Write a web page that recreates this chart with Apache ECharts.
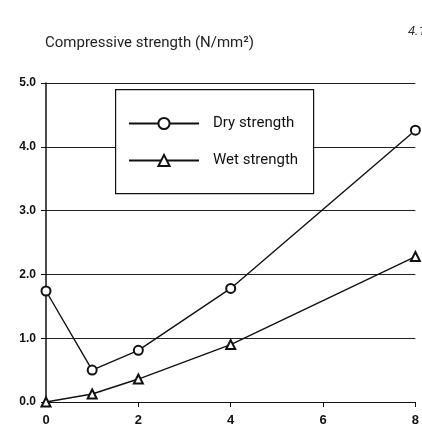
<!DOCTYPE html>
<html><head><meta charset="utf-8">
<script src="https://cdn.jsdelivr.net/npm/echarts@6/dist/echarts.min.js"></script>
<style>html,body{margin:0;padding:0;background:#fff}#c{width:422px;height:431px}</style>
</head><body><div id="c"></div>
<script>
const xValues = [0, 1, 2, 4, 8];
const dryStrength = [1.74, 0.50, 0.81, 1.78, 4.26];
const wetStrength = [0.0, 0.125, 0.36, 0.90, 2.28];
const seriesNames = ['Dry strength', 'Wet strength'];
const yTicks = [0, 1, 2, 3, 4, 5];
const xTicks = [0, 2, 4, 6, 8];

const chart = echarts.init(document.getElementById('c'));
const pair = (ys) => xValues.map((x, i) => [x, ys[i]]);
chart.setOption({
  animation: false,
  backgroundColor: '#fff',
  textStyle: { fontFamily: 'Roboto' },
  grid: { left: 46, right: 6, top: 83, bottom: 29 },
  title: [
    { text: 'Compressive strength (N/mm²)', left: 40, top: 31,
      textStyle: { fontFamily: 'Roboto', fontSize: 15, fontWeight: 'normal', color: '#222' } },
    { text: '4.1', left: 403, top: 20,
      textStyle: { fontFamily: 'Roboto', fontSize: 13, fontStyle: 'italic', fontWeight: 'normal', color: '#333' } }
  ],
  graphic: [{
    type: 'rect', z: 50, left: 115, top: 89,
    shape: { width: 198, height: 104 },
    style: { fill: '#fff', stroke: '#111', lineWidth: 1.2 }
  }],
  legend: {
    z: 60, orient: 'vertical', left: 128, top: 116,
    padding: 0, itemWidth: 70, itemHeight: 14, itemGap: 22,
    textStyle: { fontFamily: 'Roboto', fontSize: 15, color: '#111', padding: [0, 0, 0, 9] },
    data: seriesNames
  },
  xAxis: {
    type: 'value', min: 0, max: 8, interval: 2,
    axisLine: { show: true, onZero: false, lineStyle: { color: '#111', width: 1.2 } },
    axisTick: { show: true, length: 5, lineStyle: { color: '#111' } },
    axisLabel: { margin: 12, fontFamily: 'Liberation Sans', fontWeight: 'bold', fontSize: 13, color: '#111',
      formatter: v => xTicks.includes(v) ? String(v) : '' },
    splitLine: { show: false }
  },
  yAxis: {
    type: 'value', min: 0, max: 5, interval: 1,
    axisLine: { show: true, onZero: false, lineStyle: { color: '#111', width: 1.5 } },
    axisTick: { show: true, length: 5, lineStyle: { color: '#111' } },
    axisLabel: { margin: 10, fontFamily: 'Liberation Sans', fontWeight: 'bold', fontSize: 12, color: '#111',
      formatter: v => yTicks.includes(v) ? v.toFixed(1) : '' },
    splitLine: { show: true, lineStyle: { color: '#222', width: 1.2 } }
  },
  series: [
    { name: seriesNames[0], type: 'line', data: pair(dryStrength), symbol: 'emptyCircle', symbolSize: 9,
      lineStyle: { color: '#111', width: 1.4 }, itemStyle: { color: '#111', borderWidth: 1.4 }, z: 3 },
    { name: seriesNames[1], type: 'line', data: pair(wetStrength), symbol: 'emptyTriangle', symbolSize: 9,
      lineStyle: { color: '#111', width: 1.4 }, itemStyle: { color: '#111', borderWidth: 1.4 }, z: 3 }
  ]
});
</script></body></html>
